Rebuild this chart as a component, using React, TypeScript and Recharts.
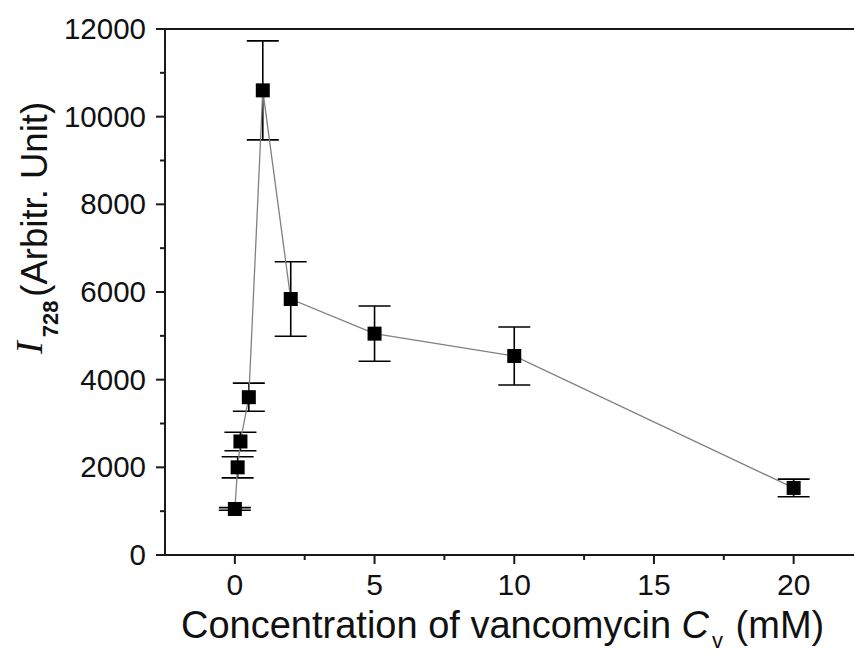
import React from 'react';
import { ComposedChart, Line, XAxis, YAxis, ErrorBar, ReferenceLine } from 'recharts';

const concentrations = [0, 0.1, 0.2, 0.5, 1, 2, 5, 10, 20];
const intensities = [1050, 2000, 2590, 3600, 10600, 5840, 5050, 4540, 1530];
const errors = [30, 240, 210, 320, 1130, 850, 630, 660, 200];

const xTicks = [0, 2.5, 5, 7.5, 10, 12.5, 15, 17.5, 20];
const xMajor = [0, 5, 10, 15, 20];
const yTicks = [0, 1000, 2000, 3000, 4000, 5000, 6000, 7000, 8000, 9000, 10000, 11000, 12000];
const yMajor = [0, 2000, 4000, 6000, 8000, 10000, 12000];

const data = concentrations.map((c, i) => ({ x: c, y: intensities[i], err: errors[i] }));

const FONT = '"Liberation Sans", Arial, sans-serif';
const AXIS = '#1a1a1a';

const XTick = (props: any) => {
  const { x, y, payload } = props;
  const major = xMajor.includes(payload.value);
  return (
    <g>
      <line x1={x} x2={x} y1={y} y2={y + (major ? 9 : 5)} stroke={AXIS} strokeWidth={2} />
      {major && (
        <text x={x} y={y + 40} textAnchor="middle" fontFamily={FONT} fontSize={30} fill="#111">
          {payload.value}
        </text>
      )}
    </g>
  );
};

const YTick = (props: any) => {
  const { x, y, payload } = props;
  const major = yMajor.includes(payload.value);
  return (
    <g>
      <line x1={x - (major ? 9 : 5)} x2={x} y1={y} y2={y} stroke={AXIS} strokeWidth={2} />
      {major && (
        <text x={x - 19} y={y + 10} textAnchor="end" fontFamily={FONT} fontSize={29.5} fill="#111">
          {payload.value}
        </text>
      )}
    </g>
  );
};

const SquareDot = (props: any) => {
  const { cx, cy } = props;
  if (cx == null || cy == null) return null;
  return <rect x={cx - 7} y={cy - 7} width={14} height={14} fill="#000" />;
};

const XLabel = () => (
  <text x={181} y={638} fontFamily={FONT} fontSize={38} fill="#111">
    <tspan>Concentration of vancomycin </tspan>
    <tspan fontStyle="italic">C</tspan>
    <tspan fontSize={22} dy={10} dx={3}>v</tspan>
    <tspan dy={-10} dx={2}> (mM)</tspan>
  </text>
);

const YLabel = () => (
  <text transform="translate(47,354) rotate(-90)" x={0} y={0} fontFamily={FONT} fontSize={36.5} fill="#111">
    <tspan fontFamily='"Liberation Serif", "Times New Roman", serif' fontStyle="italic" fontSize={38} dy={-5}>I</tspan>
    <tspan fontWeight="bold" fontSize={22} dy={16} dx={4}>728</tspan>
    <tspan dy={-11} dx={4}>(Arbitr. Unit)</tspan>
  </text>
);

export default function App() {
  return (
    <div style={{ position: 'absolute', left: 0, top: 0, width: 854, height: 653, background: '#fff' }}>
      <ComposedChart width={854} height={653} data={data} margin={{ top: 29, right: 0, bottom: 0, left: 0 }}>
        <XAxis
          dataKey="x"
          type="number"
          domain={[-2.5, 22.16]}
          ticks={xTicks}
          interval={0}
          allowDataOverflow
          height={98}
          tickSize={0}
          tickMargin={0}
          tickLine={false}
          axisLine={{ stroke: AXIS, strokeWidth: 2 }}
          tick={<XTick />}
          label={{ content: () => <XLabel /> }}
        />
        <YAxis
          type="number"
          domain={[0, 12000]}
          ticks={yTicks}
          interval={0}
          allowDataOverflow
          width={165}
          tickSize={0}
          tickMargin={0}
          tickLine={false}
          axisLine={{ stroke: AXIS, strokeWidth: 2 }}
          tick={<YTick />}
          label={{ content: () => <YLabel /> }}
        />
        <ReferenceLine y={12000} stroke={AXIS} strokeWidth={2} />
        <Line
          dataKey="y"
          stroke="#808080"
          strokeWidth={1.3}
          dot={<SquareDot />}
          activeDot={false}
          isAnimationActive={false}
        >
          <ErrorBar dataKey="err" width={16} stroke="#000" strokeWidth={1.6} direction="y" />
        </Line>
      </ComposedChart>
    </div>
  );
}
